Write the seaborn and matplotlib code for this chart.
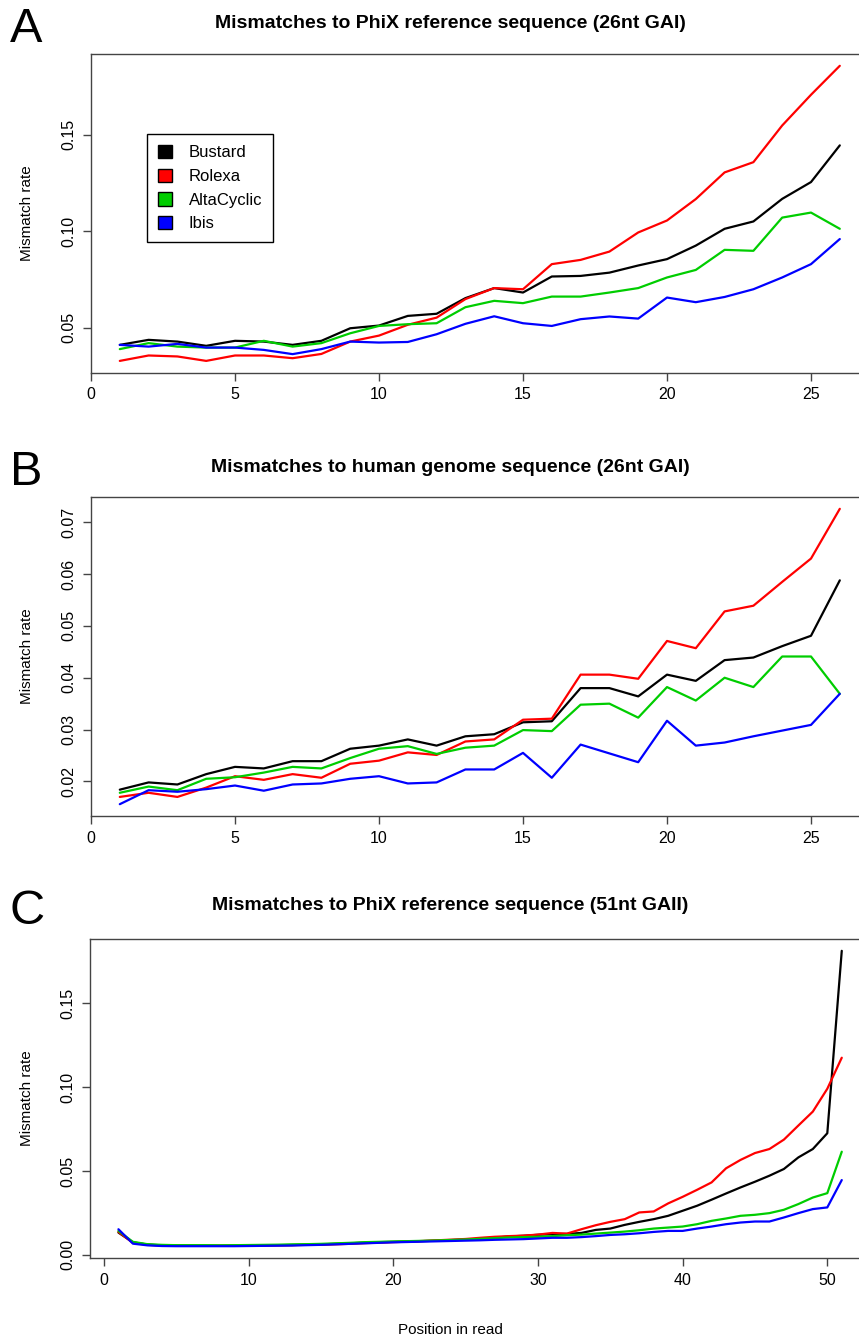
import matplotlib
matplotlib.use("Agg")
import matplotlib.pyplot as plt
from matplotlib.patches import Patch
from matplotlib.ticker import FormatStrFormatter
import seaborn as sns
import pandas as pd

metodos = ["Bustard", "Rolexa", "AltaCyclic", "Ibis"]
cores = ["#000000", "#FF0000", "#00CD00", "#0000FF"]

posicoes_26 = list(range(1, 27))
posicoes_51 = list(range(1, 52))

# A: PhiX, 26nt GAI
bustard_a = [0.0412, 0.0438, 0.0429, 0.0407, 0.0433, 0.0429, 0.0412, 0.0433, 0.0498, 0.0512, 0.0562, 0.0573, 0.0654,
             0.0706, 0.0683, 0.0766, 0.0769, 0.0786, 0.0823, 0.0856, 0.0926, 0.1013, 0.1051, 0.1168, 0.1255, 0.1445]
rolexa_a = [0.0329, 0.0357, 0.0352, 0.0329, 0.0357, 0.0357, 0.0343, 0.0365, 0.0429, 0.0460, 0.0516, 0.0553, 0.0649,
            0.0706, 0.0700, 0.0830, 0.0852, 0.0895, 0.0994, 0.1056, 0.1167, 0.1305, 0.1358, 0.1548, 0.1707, 0.1857]
altacyclic_a = [0.0390, 0.0421, 0.0403, 0.0398, 0.0398, 0.0433, 0.0403, 0.0421, 0.0472, 0.0510, 0.0519, 0.0524, 0.0607,
                0.0640, 0.0628, 0.0662, 0.0662, 0.0683, 0.0706, 0.0761, 0.0800, 0.0904, 0.0899, 0.1071, 0.1097, 0.1013]
ibis_a = [0.0412, 0.0403, 0.0417, 0.0398, 0.0398, 0.0386, 0.0364, 0.0390, 0.0429, 0.0424, 0.0427, 0.0467, 0.0521,
          0.0560, 0.0524, 0.0510, 0.0545, 0.0559, 0.0548, 0.0657, 0.0633, 0.0660, 0.0700, 0.0761, 0.0830, 0.0960]

# B: human genome, 26nt GAI
bustard_b = [0.0184, 0.0198, 0.0194, 0.0214, 0.0228, 0.0225, 0.0239, 0.0239, 0.0263, 0.0269, 0.0281, 0.0269, 0.0287,
             0.0291, 0.0314, 0.0316, 0.0380, 0.0380, 0.0364, 0.0406, 0.0394, 0.0434, 0.0439, 0.0461, 0.0481, 0.0588]
rolexa_b = [0.0170, 0.0178, 0.0170, 0.0188, 0.0210, 0.0203, 0.0214, 0.0207, 0.0234, 0.0240, 0.0256, 0.0251, 0.0277,
            0.0281, 0.0319, 0.0321, 0.0406, 0.0406, 0.0398, 0.0471, 0.0457, 0.0528, 0.0539, 0.0585, 0.0630, 0.0726]
altacyclic_b = [0.0178, 0.0190, 0.0183, 0.0205, 0.0208, 0.0217, 0.0228, 0.0225, 0.0245, 0.0263, 0.0268, 0.0253, 0.0265,
                0.0269, 0.0299, 0.0297, 0.0348, 0.0350, 0.0323, 0.0382, 0.0356, 0.0400, 0.0382, 0.0441, 0.0441, 0.0369]
ibis_b = [0.0156, 0.0183, 0.0180, 0.0185, 0.0192, 0.0182, 0.0194, 0.0196, 0.0205, 0.0210, 0.0196, 0.0198, 0.0223,
          0.0223, 0.0255, 0.0207, 0.0271, 0.0254, 0.0237, 0.0317, 0.0269, 0.0275, 0.0287, 0.0298, 0.0309, 0.0369]

# C: PhiX, 51nt GAII
bustard_c = [0.0133, 0.0075, 0.0062, 0.0057, 0.0056, 0.0055, 0.0055, 0.0055, 0.0055, 0.0056, 0.0057, 0.0058, 0.0059,
             0.0061, 0.0063, 0.0066, 0.0069, 0.0073, 0.0076, 0.0078, 0.0080, 0.0082, 0.0085, 0.0088, 0.0091, 0.0096,
             0.0102, 0.0110, 0.0114, 0.0120, 0.0124, 0.0125, 0.0131, 0.0149, 0.0157, 0.0179, 0.0197, 0.0213, 0.0233,
             0.0263, 0.0293, 0.0329, 0.0366, 0.0402, 0.0436, 0.0472, 0.0512, 0.0581, 0.0631, 0.0725, 0.1812]
rolexa_c = [0.0137, 0.0072, 0.0060, 0.0056, 0.0055, 0.0055, 0.0054, 0.0054, 0.0055, 0.0055, 0.0056, 0.0057, 0.0058,
            0.0060, 0.0061, 0.0063, 0.0066, 0.0070, 0.0073, 0.0076, 0.0079, 0.0083, 0.0087, 0.0091, 0.0095, 0.0102,
            0.0108, 0.0112, 0.0115, 0.0121, 0.0131, 0.0127, 0.0153, 0.0177, 0.0197, 0.0213, 0.0253, 0.0259, 0.0307,
            0.0346, 0.0388, 0.0432, 0.0516, 0.0566, 0.0607, 0.0631, 0.0687, 0.0771, 0.0854, 0.0990, 0.1175]
altacyclic_c = [0.0143, 0.0078, 0.0064, 0.0060, 0.0058, 0.0058, 0.0058, 0.0057, 0.0058, 0.0059, 0.0060, 0.0061, 0.0063,
                0.0064, 0.0066, 0.0069, 0.0072, 0.0076, 0.0078, 0.0080, 0.0082, 0.0084, 0.0086, 0.0089, 0.0092, 0.0096,
                0.0100, 0.0104, 0.0106, 0.0108, 0.0112, 0.0117, 0.0121, 0.0127, 0.0133, 0.0139, 0.0147, 0.0157, 0.0163,
                0.0169, 0.0183, 0.0203, 0.0217, 0.0233, 0.0239, 0.0249, 0.0269, 0.0303, 0.0342, 0.0368, 0.0615]
ibis_c = [0.0153, 0.0067, 0.0057, 0.0053, 0.0052, 0.0052, 0.0052, 0.0052, 0.0052, 0.0053, 0.0054, 0.0055, 0.0056,
          0.0058, 0.0060, 0.0063, 0.0066, 0.0069, 0.0072, 0.0075, 0.0077, 0.0079, 0.0081, 0.0083, 0.0085, 0.0087,
          0.0090, 0.0092, 0.0094, 0.0098, 0.0102, 0.0102, 0.0106, 0.0112, 0.0119, 0.0123, 0.0129, 0.0137, 0.0143,
          0.0143, 0.0157, 0.0169, 0.0183, 0.0193, 0.0199, 0.0199, 0.0223, 0.0249, 0.0273, 0.0283, 0.0446]

sns.set_theme(style="ticks")
plt.rcParams["font.family"] = ["Liberation Sans", "DejaVu Sans"]
plt.rcParams["text.color"] = "black"
plt.rcParams["axes.labelcolor"] = "black"
plt.rcParams["xtick.color"] = "black"
plt.rcParams["ytick.color"] = "black"

W, H = 859, 1341


def montar_df(posicoes, series):
    linhas = []
    for nome, valores in zip(metodos, series):
        for p, v in zip(posicoes, valores):
            linhas.append({"pos": p, "rate": v, "metodo": nome})
    return pd.DataFrame(linhas)


def painel(fig, rect_px, posicoes, series, xticks, yticks):
    esq, dir_, topo, base = rect_px
    ax = fig.add_axes([esq / W, 1 - base / H, (dir_ - esq) / W, (base - topo) / H])
    df = montar_df(posicoes, series)
    sns.lineplot(data=df, x="pos", y="rate", hue="metodo", hue_order=metodos,
                 palette=cores, linewidth=1.6, legend=False, ax=ax)
    # margens estilo R (4%)
    xmin, xmax = min(posicoes), max(posicoes)
    dx = 0.04 * (xmax - xmin)
    ymin, ymax = df["rate"].min(), df["rate"].max()
    dy = 0.04 * (ymax - ymin)
    ax.set_xlim(xmin - dx, xmax + dx)
    ax.set_ylim(ymin - dy, ymax + dy)
    ax.set_xticks(xticks)
    ax.set_yticks(yticks)
    ax.yaxis.set_major_formatter(FormatStrFormatter("%.2f"))
    ax.tick_params(axis="both", labelsize=11.5, length=5.5, width=1, color="#444444",
                   labelcolor="black", pad=5)
    ax.tick_params(axis="y", labelrotation=90)
    for t in ax.get_yticklabels():
        t.set_va("center")
    for s in ax.spines.values():
        s.set_color("#444444")
        s.set_linewidth(1)
    ax.set_xlabel("")
    ax.set_ylabel("Mismatch rate", fontsize=11, color="black")
    ax.yaxis.set_label_coords((34 - esq) / (dir_ - esq), 0.5)
    return ax


fig = plt.figure(figsize=(W / 100, H / 100), dpi=100)

ax_a = painel(fig, (91, 868.6, 54, 372.7), posicoes_26,
              [bustard_a, rolexa_a, altacyclic_a, ibis_a], [0, 5, 10, 15, 20, 25], [0.05, 0.10, 0.15])
ax_b = painel(fig, (91, 868.6, 497, 816), posicoes_26,
              [bustard_b, rolexa_b, altacyclic_b, ibis_b], [0, 5, 10, 15, 20, 25], [0.02, 0.03, 0.04, 0.05, 0.06, 0.07])
ax_c = painel(fig, (89.5, 870.7, 939, 1258), posicoes_51,
              [bustard_c, rolexa_c, altacyclic_c, ibis_c], [0, 10, 20, 30, 40, 50], [0.00, 0.05, 0.10, 0.15])

titulos = [("A", "Mismatches to PhiX reference sequence (26nt GAI)", 24),
           ("B", "Mismatches to human genome sequence (26nt GAI)", 467),
           ("C", "Mismatches to PhiX reference sequence (51nt GAII)", 906)]
for letra, titulo, y in titulos:
    fig.text(10 / W, 1 - (y + 5) / H, letra, fontsize=35, ha="left", va="center")
    fig.text(450 / W, 1 - y / H, titulo, fontsize=14, fontweight="bold", ha="center", va="center")

fig.text(450 / W, 1 - 1330 / H, "Position in read", fontsize=11, ha="center", va="center")

alcas = [Patch(facecolor=c, edgecolor="black", linewidth=1) for c in cores]
leg = ax_a.legend(alcas, metodos, loc="upper left", bbox_to_anchor=(147 / W, 1 - 134 / H),
                  bbox_transform=fig.transFigure, fontsize=12, frameon=True, fancybox=False,
                  framealpha=1, edgecolor="black", handlelength=0.85, handleheight=0.85,
                  handletextpad=1.0, labelspacing=0.5, borderpad=0.65, borderaxespad=0)
leg.get_frame().set_linewidth(1)

plt.savefig("out.png", dpi=100)
